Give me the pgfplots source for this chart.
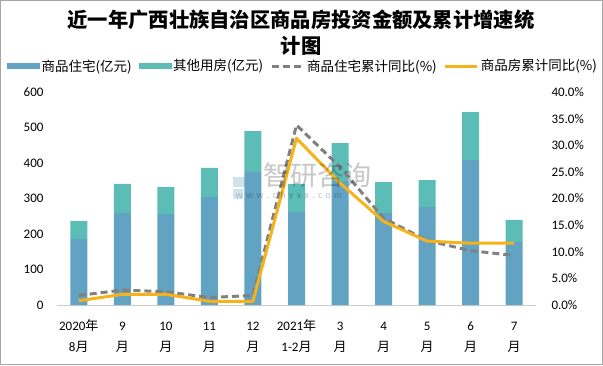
\documentclass[border=0pt]{standalone}
\usepackage{pgfplots}
\pgfplotsset{compat=1.18}
\usepackage{fontspec}
\setmainfont{Carlito}
\newfontfamily\cjk{Noto Sans CJK SC}
\definecolor{cres}{RGB}{98,163,195}
\definecolor{coth}{RGB}{91,189,181}
\definecolor{cgray}{RGB}{128,128,128}
\definecolor{corange}{RGB}{245,179,27}
\newcommand\yue{{\cjk 月}}
\newcommand\vp{{\cjk\vphantom{年}}}
\begin{document}
\begin{tikzpicture}[x=1pt,y=1pt]
\draw[color=black!35, line width=1pt] (0.5,0.5) rectangle (602.5,364.5);
\node[font={\cjk\bfseries\fontsize{20.3}{24}\selectfont}] at (301,345) {近一年广西壮族自治区商品房投资金额及累计增速统};
\node[font={\cjk\bfseries\fontsize{20.3}{24}\selectfont}] at (301,319) {计图};
\begin{axis}[
  at={(57pt,60pt)}, anchor=south west, scale only axis,
  width=479pt, height=213pt,
  xmin=-0.5, xmax=10.5, ymin=0, ymax=600,
  ytick={0,100,...,600},
  xtick={0,...,10},
  xticklabels={{\vp 2020{\cjk 年}\\\vp 8\yue},{\vp 9\\\vp\yue},{\vp 10\\\vp\yue},{\vp 11\\\vp\yue},{\vp 12\\\vp\yue},{\vp 2021{\cjk 年}\\\vp 1-2\yue},{\vp 3\\\vp\yue},{\vp 4\\\vp\yue},{\vp 5\\\vp\yue},{\vp 6\\\vp\yue},{\vp 7\\\vp\yue}},
  xticklabel style={align=center, font={\fontsize{13}{21}\selectfont}, yshift=-11pt},
  yticklabel style={font={\fontsize{13}{15}\selectfont}, xshift=-10pt},
  /pgf/number format/assume math mode=true,
  ybar stacked, bar width=17pt,
  axis x line*=bottom, axis y line*=left,
  y axis line style={draw=none},
  x axis line style={black!20, line width=1pt},
  tick style={draw=none},
]
\addplot[fill=cres, draw=none] coordinates {(0,186) (1,259) (2,256) (3,304) (4,375) (5,262) (6,349) (7,259) (8,276) (9,408) (10,178)};
\addplot[fill=coth, draw=none] coordinates {(0,51) (1,82) (2,76) (3,82) (4,115) (5,79) (6,107) (7,87) (8,76) (9,135) (10,62)};
\end{axis}
\begin{axis}[
  at={(57pt,60pt)}, anchor=south west, scale only axis,
  width=479pt, height=213pt,
  xmin=-0.5, xmax=10.5, ymin=0, ymax=40,
  ytick={0,5,...,40},
  yticklabel={\pgfmathprintnumber[fixed,fixed zerofill,precision=1]{\tick}\%},
  yticklabel style={font={\fontsize{13}{15}\selectfont}, xshift=12pt},
  /pgf/number format/assume math mode=true,
  axis y line*=right, axis x line=none,
  y axis line style={draw=none},
  tick style={draw=none},
  legend columns=4,
  legend style={at={(-0.1044,1.122)}, anchor=west, draw=none, fill=none,
    font={\cjk\fontsize{13.5}{15}\selectfont},
    /tikz/every even column/.append style={column sep=5pt},
    inner sep=0pt},
]
\addlegendimage{legend image code/.code={\fill[cres] (0pt,-2.5pt) rectangle (32pt,2.5pt);}}
\addlegendentry{商品住宅(亿元)}
\addlegendimage{legend image code/.code={\fill[coth] (0pt,-2.5pt) rectangle (32pt,2.5pt);}}
\addlegendentry{其他用房(亿元)}
\addplot[cgray, line width=3pt, dash pattern=on 7pt off 4pt, line join=round,
  legend image code/.code={\draw[cgray, line width=3pt, dash pattern=on 7pt off 4pt] (0pt,0pt) -- (32pt,0pt);}]
  coordinates {(0,1.8) (1,2.8) (2,2.5) (3,1.4) (4,1.8) (5,33.8) (6,25.9) (7,16.3) (8,12.1) (9,10.2) (10,9.3)};
\addlegendentry{商品住宅累计同比(\%)}
\addplot[corange, line width=3pt, line join=round,
  legend image code/.code={\draw[corange, line width=3pt] (0pt,0pt) -- (32pt,0pt);}]
  coordinates {(0,0.8) (1,2.0) (2,2.0) (3,0.7) (4,0.7) (5,31.3) (6,22.9) (7,15.7) (8,12.0) (9,11.6) (10,11.6)};
\addlegendentry{商品房累计同比(\%)}
\end{axis}
\node[font={\cjk\fontsize{27}{30}\selectfont}, text=black, opacity=0.22, anchor=west] at (260,190) {智研咨询};
\node[font={\fontsize{10}{12}\selectfont}, text=black, opacity=0.25, anchor=west] at (232,169) {w\,\,w\,\,w\,\,.\,\,c\,\,h\,\,y\,\,x\,\,x\,\,.\,\,c\,\,o\,\,m};
\fill[cres, opacity=0.3] (233,178) rectangle (255,188);
\fill[cres, opacity=0.3] (233,166) rectangle (243,176);
\end{tikzpicture}
\end{document}
